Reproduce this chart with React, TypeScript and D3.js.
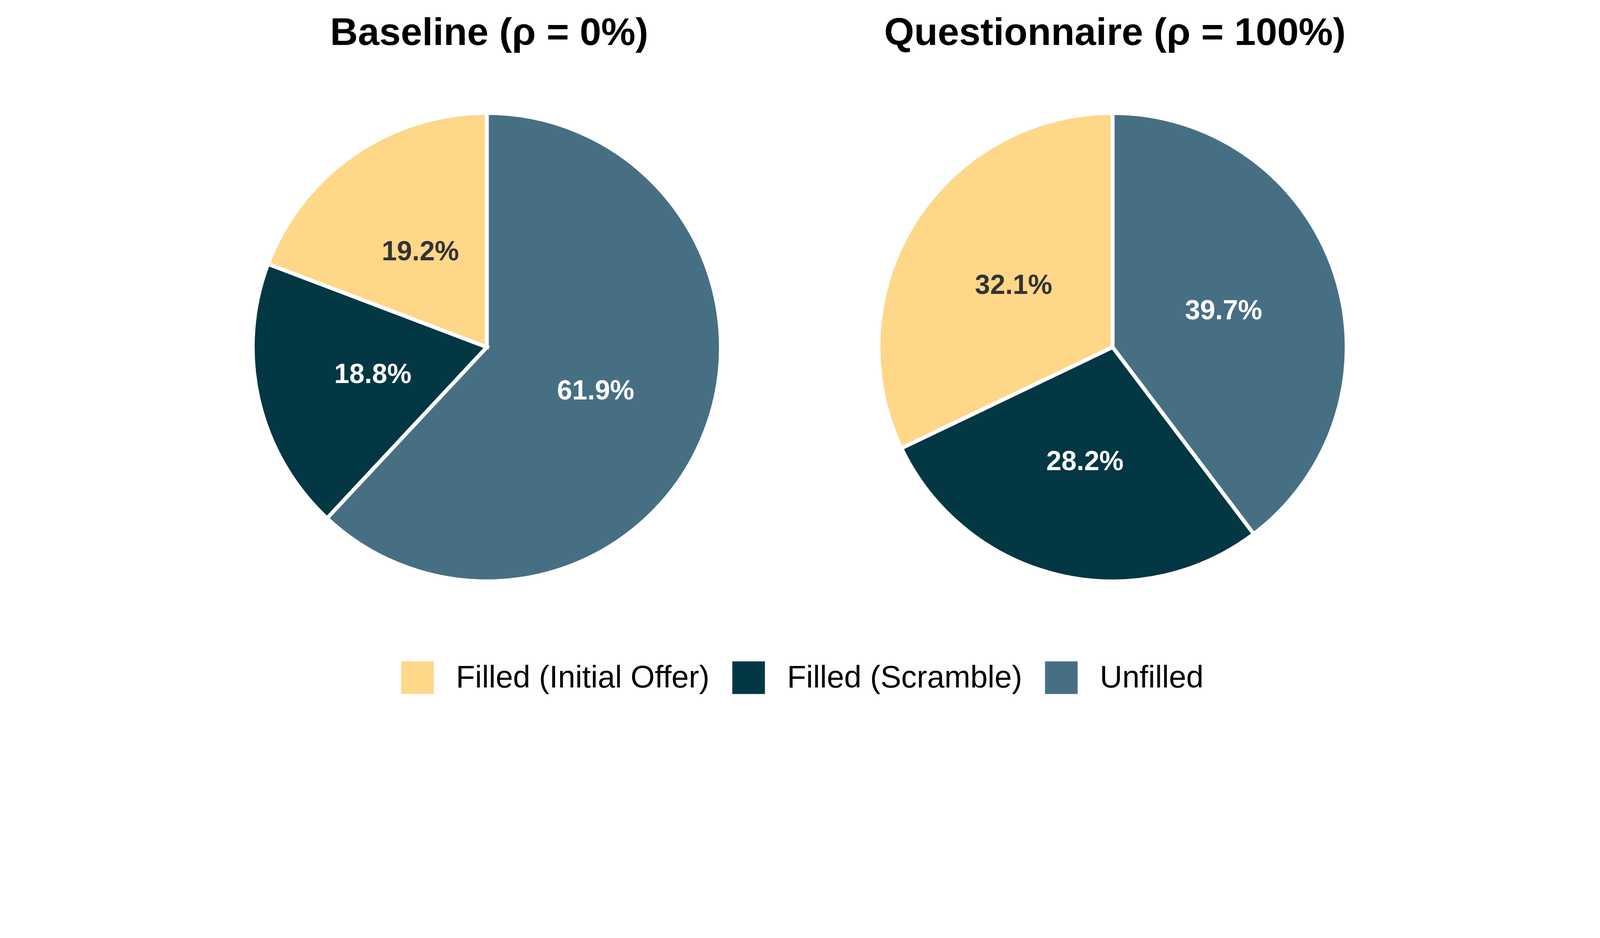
import React, { useEffect, useRef } from "react";
import * as d3 from "d3";

const categories = ["Unfilled", "Filled (Scramble)", "Filled (Initial Offer)"];
const legendOrder = ["Filled (Initial Offer)", "Filled (Scramble)", "Unfilled"];
const panelTitles = ["Baseline (ρ = 0%)", "Questionnaire (ρ = 100%)"];
const baselineValues = [61.9, 18.8, 19.2];
const questionnaireValues = [39.7, 28.2, 32.1];
const colors = ["#476F84", "#023743", "#FED789"];
const labelColors = ["#FFFFFF", "#FFFFFF", "#333333"];

const W = 5400;
const H = 2400;
const FONT = "'Liberation Sans', Arial, Helvetica, sans-serif";

export default function App() {
  const ref = useRef<SVGSVGElement | null>(null);

  useEffect(() => {
    document.body.style.margin = "0";
    document.body.style.overflow = "hidden";
    const svg = d3.select(ref.current);
    svg.selectAll("*").remove();

    const color = d3.scaleOrdinal<string, string>().domain(categories).range(colors);
    const labelColor = d3.scaleOrdinal<string, string>().domain(categories).range(labelColors);

    const panels = [
      { title: panelTitles[0], values: baselineValues, cx: 1643, cy: 1171 },
      { title: panelTitles[1], values: questionnaireValues, cx: 3755, cy: 1171 },
    ];
    const r = 790;
    const pie = d3
      .pie<{ cat: string; v: number }>()
      .sort(null)
      .value((d) => d.v)
      .startAngle(0)
      .endAngle(2 * Math.PI);
    const arc = d3.arc<d3.PieArcDatum<{ cat: string; v: number }>>().innerRadius(0).outerRadius(r);
    const labelArc = d3
      .arc<d3.PieArcDatum<{ cat: string; v: number }>>()
      .innerRadius(r * 0.5)
      .outerRadius(r * 0.5);

    panels.forEach((p) => {
      const data = categories.map((c, i) => ({ cat: c, v: p.values[i] }));
      const arcs = pie(data);
      const g = svg.append("g").attr("transform", `translate(${p.cx},${p.cy})`);
      g.selectAll("path")
        .data(arcs)
        .join("path")
        .attr("d", arc)
        .attr("fill", (d) => color(d.data.cat))
        .attr("stroke", "#FFFFFF")
        .attr("stroke-width", 13)
        .attr("stroke-linejoin", "miter");
      g.selectAll("text")
        .data(arcs)
        .join("text")
        .attr("transform", (d) => {
          const [x, y] = labelArc.centroid(d);
          return `translate(${x},${y})`;
        })
        .attr("text-anchor", "middle")
        .attr("dominant-baseline", "central")
        .attr("font-family", FONT)
        .attr("font-weight", "bold")
        .attr("font-size", 92)
        .attr("fill", (d) => labelColor(d.data.cat))
        .text((d) => `${d.data.v.toFixed(1)}%`);

      svg
        .append("text")
        .attr("x", p.cx + 8)
        .attr("y", 152)
        .attr("text-anchor", "middle")
        .attr("font-family", FONT)
        .attr("font-weight", "bold")
        .attr("font-size", 130)
        .attr("fill", "#000")
        .text(p.title);
    });

    // Legend
    const sq = 110;
    const gapText = 75;
    const gapItem = 77;
    const lg = svg.append("g");
    const items = legendOrder.map((c) => {
      const t = lg
        .append("text")
        .attr("font-family", FONT)
        .attr("font-size", 105)
        .attr("fill", "#000")
        .attr("y", 2319)
        .text(c);
      const w = (t.node() as SVGTextElement).getComputedTextLength();
      return { c, t, w };
    });
    const total =
      items.reduce((s, it) => s + sq + gapText + it.w, 0) + gapItem * (items.length - 1);
    let x = 2708 - total / 2;
    items.forEach((it) => {
      lg.append("rect")
        .attr("x", x)
        .attr("y", 2231)
        .attr("width", sq)
        .attr("height", sq)
        .attr("fill", color(it.c));
      it.t.attr("x", x + sq + gapText);
      x += sq + gapText + it.w + gapItem;
    });
  }, []);

  return (
    <svg
      ref={ref}
      viewBox={`0 0 ${W} ${H}`}
      preserveAspectRatio="xMidYMin meet"
      style={{ display: "block", width: "100%", height: "auto", background: "#fff" }}
    />
  );
}
